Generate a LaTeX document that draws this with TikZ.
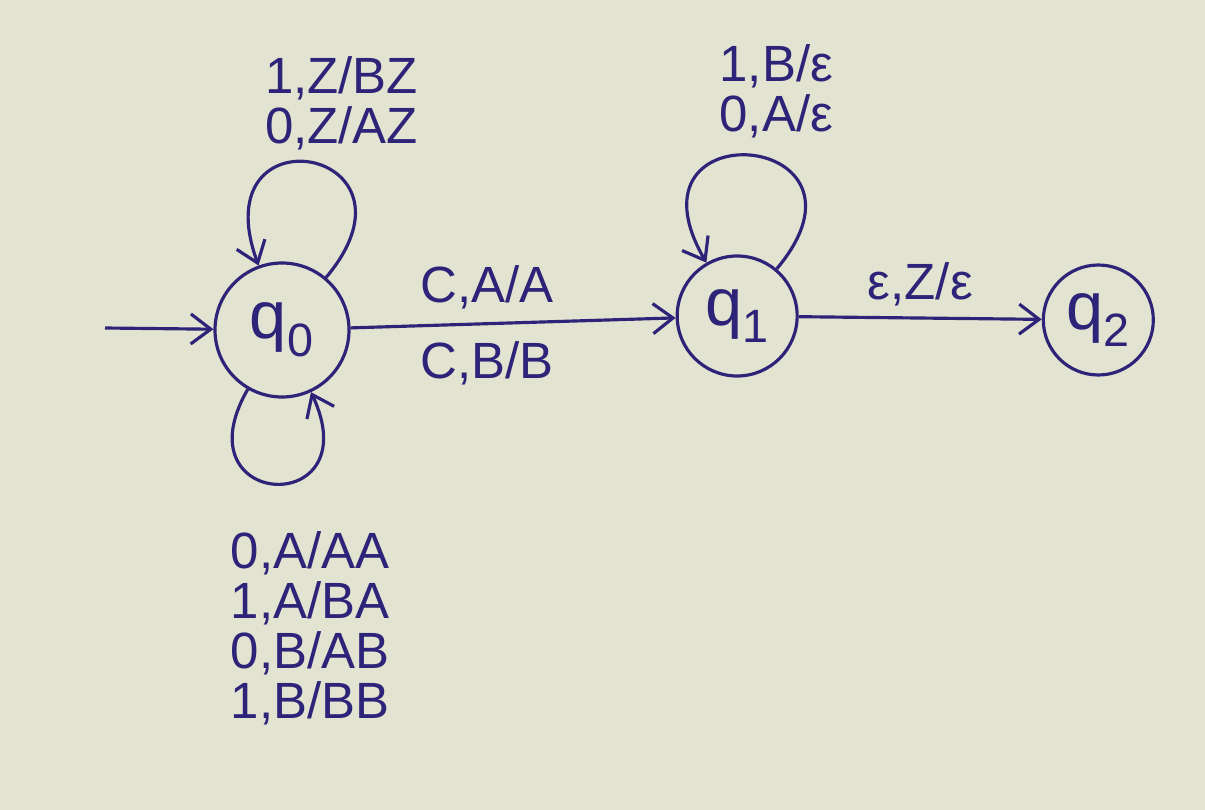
\documentclass[tikz,border=0pt]{standalone}
\usepackage{fontspec}
\setmainfont{Liberation Sans}
\usepackage{xcolor}
\usepackage{tikz}
\usetikzlibrary{arrows.meta,positioning}
\definecolor{ink}{RGB}{45,35,120}
\definecolor{paper}{RGB}{226,227,208}

\begin{document}
\begin{tikzpicture}[>={Straight Barb[length=4mm,width=6mm]}, line width=1.8pt, color=ink, every node/.style={font=\fontsize{29}{28.5}\selectfont, align=center}, state/.style={draw, circle, inner sep=0pt, font=\fontsize{38}{40}\selectfont}]
\path[use as bounding box, fill=paper] (0,0) rectangle (24.1,-16.2);
\node (q0) [state, minimum size=26.8mm] at (5.64,-6.6) {q\textsubscript{0}};
\node (q1) [state, minimum size=24mm, right=65mm of q0, yshift=2.8mm] {q\textsubscript{1}};
\node (q2) [state, minimum size=22mm, right=48.6mm of q1, yshift=-0.8mm] {q\textsubscript{2}};
\coordinate (start) at (2.1,-6.56);
\draw[->] (start) -- (q0);
\draw[->] (q0) -- node[pos=0.42, above=1.5mm]{C,A/A} node[pos=0.42, below=2mm]{C,B/B} (q1);
\draw[->] (q1) -- node[above=1mm]{ε,Z/ε} (q2);
% self loops
\draw[->] (q0) to[out=50, in=110, distance=34mm] node[above=1mm, xshift=6mm]{1,Z/BZ\\0,Z/AZ} (q0);
\draw[->] (q0) to[out=240, in=295, distance=28mm] node[below=8mm, xshift=7mm]{0,A/AA\\1,A/BA\\0,B/AB\\1,B/BB} (q0);
\draw[->] (q1) to[out=50, in=120, distance=36mm] node[above=2mm, xshift=5mm]{1,B/ε\\0,A/ε} (q1);
\end{tikzpicture}
\end{document}
